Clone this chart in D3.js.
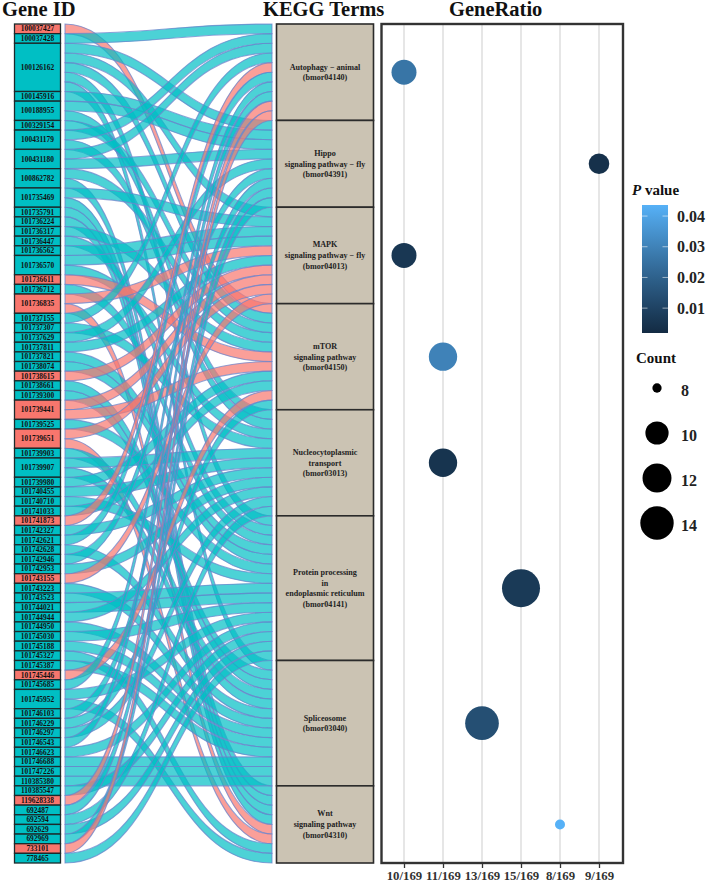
<!DOCTYPE html>
<html>
<head>
<meta charset="utf-8">
<script src="https://cdn.jsdelivr.net/npm/d3@7"></script>
<style>
html,body{margin:0;padding:0;background:#fff;}
svg{display:block;}
text{font-family:"Liberation Serif",serif;font-weight:bold;}
</style>
</head>
<body>
<div id="chart"></div>
<script>
const geneIds = ["100037427","100037428","100126162","100145916","100188955","100329154","100431179","100431180","100862782","101735469","101735791","101736224","101736317","101736447","101736562","101736570","101736611","101736712","101736835","101737155","101737307","101737629","101737811","101737821","101738074","101738615","101738661","101739300","101739441","101739525","101739651","101739903","101739907","101739980","101740455","101740710","101741033","101741873","101742327","101742621","101742628","101742946","101742953","101743155","101743223","101743523","101744021","101744944","101744950","101745030","101745188","101745327","101745387","101745446","101745685","101745952","101746103","101746229","101746297","101746543","101746623","101746688","101747226","110385380","110385547","119628338","692487","692594","692629","692969","733101","778465"];
const upGenes = ["100037427","101736611","101736835","101738615","101739441","101739651","101741873","101743155","101745446","119628338","733101"];

const autophagyGenes = ["100037428","100431179","100431180","101737155","101741873","101742621","101745685","101746543","119628338","733101"];
const hippoGenes = ["100126162","100145916","100188955","100431180","101737629","101742946","101746103","692487","692969"];
const mapkGenes = ["100126162","101735469","101736562","101736570","101736835","101737811","101738615","101739441","101739651","101743155"];
const mtorGenes = ["100037427","100126162","100329154","100862782","101736317","101736611","101739441","101739980","101741033","101745446","101746229"];
const nucleoGenes = ["100188955","100431179","101736570","101737307","101739907","101740455","101742327","101742953","101744944","101746297","692594"];
const proteinGenes = ["100126162","101736447","101736712","101737821","101738074","101739525","101740710","101743523","101744021","101745030","101745952","101746623","110385547","692629","778465"];
const spliceGenes = ["100126162","101738661","101739300","101739903","101739907","101742628","101743223","101744950","101745188","101745387","101746688","101747226","110385380"];
const wntGenes = ["100862782","101735469","101735791","101736224","101736835","101739651","101745327","101745952"];
const termGenes = [autophagyGenes,hippoGenes,mapkGenes,mtorGenes,nucleoGenes,proteinGenes,spliceGenes,wntGenes];

const termLabels = [
  ["Autophagy − animal","(bmor04140)"],
  ["Hippo","signaling pathway − fly","(bmor04391)"],
  ["MAPK","signaling pathway − fly","(bmor04013)"],
  ["mTOR","signaling pathway","(bmor04150)"],
  ["Nucleocytoplasmic","transport","(bmor03013)"],
  ["Protein processing","in","endoplasmic reticulum","(bmor04141)"],
  ["Spliceosome","(bmor03040)"],
  ["Wnt","signaling pathway","(bmor04310)"]
];
const ratioLabels = ["10/169","11/169","13/169","15/169","8/169","9/169"];
const termRatio = ["10/169","9/169","10/169","11/169","11/169","15/169","13/169","8/169"];
const termCount = [10,9,10,11,11,15,13,8];
const termP = [0.026,0.004,0.006,0.030,0.005,0.007,0.014,0.0436];
const pTicks = [0.04,0.03,0.02,0.01];
const countTicks = [8,10,12,14];

const W=708,H=882;
const svg=d3.select("#chart").append("svg").attr("width",W).attr("height",H);
const total=d3.sum(termGenes,t=>t.length);
const yUnit=d3.scaleLinear().domain([0,total]).range([24,863]);

/* Build lodes */
const geneCount=new Map(geneIds.map(g=>[g,0]));
termGenes.forEach(t=>t.forEach(g=>geneCount.set(g,geneCount.get(g)+1)));
const geneStart=new Map();let cum=0;
geneIds.forEach(g=>{geneStart.set(g,cum);cum+=geneCount.get(g);});
const geneUsed=new Map(geneIds.map(g=>[g,0]));
const links=[];const termBoxes=[];let tcum=0;
termGenes.forEach((t,ti)=>{
  termBoxes.push({ti,start:tcum,end:tcum+t.length});
  t.forEach((g,k)=>{
    const s=geneStart.get(g)+geneUsed.get(g);geneUsed.set(g,geneUsed.get(g)+1);
    links.push({g,s,e:tcum+k});
  });
  tcum+=t.length;
});
links.sort((a,b)=>a.s-b.s);

/* Alluvial ribbons */
const xL=65,xR=272;
const band=d3.area().x(d=>d.x).y0(d=>d.y0).y1(d=>d.y1).curve(d3.curveBumpX);
svg.append("g").selectAll("path").data(links).join("path")
  .attr("d",d=>band([{x:xL,y0:yUnit(d.s),y1:yUnit(d.s+1)},{x:xR,y0:yUnit(d.e),y1:yUnit(d.e+1)}]))
  .attr("fill",d=>upGenes.includes(d.g)?"#F8766D":"#00BFC4")
  .attr("fill-opacity",0.7)
  .attr("stroke","#6C86CC")
  .attr("stroke-opacity",0.75)
  .attr("stroke-width",1.1);

/* Gene column */
const geneG=svg.append("g");
geneG.selectAll("rect").data(geneIds).join("rect")
  .attr("x",14.5).attr("width",46)
  .attr("y",g=>yUnit(geneStart.get(g)))
  .attr("height",g=>yUnit(geneCount.get(g))-yUnit(0))
  .attr("fill",g=>upGenes.includes(g)?"#F8766D":"#00BFC4")
  .attr("stroke","#1c2a2c").attr("stroke-width",1.3);
geneG.selectAll("text").data(geneIds).join("text")
  .attr("x",37.5)
  .attr("y",g=>yUnit(geneStart.get(g)+geneCount.get(g)/2))
  .attr("dy","0.35em").attr("text-anchor","middle")
  .attr("font-size",7.4).attr("fill","#111").text(g=>g);

/* Term column */
const termG=svg.append("g");
termG.selectAll("rect").data(termBoxes).join("rect")
  .attr("x",276.5).attr("width",97)
  .attr("y",d=>yUnit(d.start)).attr("height",d=>yUnit(d.end)-yUnit(d.start))
  .attr("fill","#CBC3B3").attr("stroke","#2b2b2b").attr("stroke-width",1.6);
termBoxes.forEach(b=>{
  const lines=termLabels[b.ti];
  const mid=(yUnit(b.start)+yUnit(b.end))/2;
  termG.append("text").attr("text-anchor","middle").attr("font-size",8.1).attr("fill","#222")
    .selectAll("tspan").data(lines).join("tspan")
    .attr("x",325).attr("y",(d,i)=>mid+(i-(lines.length-1)/2)*10.8+2.8).text(d=>d);
});

/* Dot panel */
const px0=381.5,px1=623,py0=24,py1=863;
const x=d3.scalePoint().domain(ratioLabels).range([404,599]);
const pc=d3.scaleLinear().domain([0.0019,0.0436]).range(["#132B43","#56B1F7"]).interpolate(d3.interpolateLab);
const unit=d3.scaleLinear().domain([8,15]).range([0,1]);
const rs=d3.scaleLinear().domain([0,1]).range([5,19]);
const radius=c=>rs(Math.sqrt(unit(c)));

const panel=svg.append("g");
panel.selectAll("line.grid").data(ratioLabels).join("line").attr("class","grid")
  .attr("x1",d=>x(d)).attr("x2",d=>x(d)).attr("y1",py0).attr("y2",py1)
  .attr("stroke","#e6e6e6").attr("stroke-width",2);
panel.selectAll("circle").data(termBoxes).join("circle")
  .attr("cx",d=>x(termRatio[d.ti]))
  .attr("cy",d=>(yUnit(d.start)+yUnit(d.end))/2)
  .attr("r",d=>radius(termCount[d.ti]))
  .attr("fill",d=>pc(termP[d.ti]));
panel.append("rect").attr("x",px0).attr("y",py0).attr("width",px1-px0).attr("height",py1-py0)
  .attr("fill","none").attr("stroke","#333").attr("stroke-width",2.4);
const ax=svg.append("g").attr("transform",`translate(0,${py1})`).call(d3.axisBottom(x).tickSize(5).tickPadding(3));
ax.select(".domain").remove();
ax.selectAll("line").attr("stroke","#333").attr("stroke-width",1.3);
ax.selectAll("text").attr("font-size",12.8).attr("font-family","Liberation Serif").attr("font-weight","bold").attr("fill","#333");

/* Titles */
const titles=[["Gene ID",2],["KEGG Terms",263],["GeneRatio",449]];
svg.append("g").selectAll("text").data(titles).join("text")
  .attr("x",d=>d[1]).attr("y",16).attr("font-size",20.5).attr("fill","#111").text(d=>d[0]);

/* P value legend */
const lg=svg.append("g");
const pLab=lg.append("text").attr("x",632).attr("y",195).attr("font-size",15).attr("fill","#111");
pLab.append("tspan").attr("font-style","italic").text("P");
pLab.append("tspan").text(" value");
const yBar=d3.scaleLinear().domain([0.0019,0.0436]).range([333,205]);
const grad=svg.append("defs").append("linearGradient").attr("id","pgrad").attr("x1",0).attr("x2",0).attr("y1",1).attr("y2",0);
d3.range(0,1.0001,0.1).forEach(t=>{
  grad.append("stop").attr("offset",t).attr("stop-color",pc(0.0019+t*(0.0436-0.0019)));
});
lg.append("rect").attr("x",642).attr("y",yBar(0.0436)).attr("width",26).attr("height",yBar(0.0019)-yBar(0.0436)).attr("fill","url(#pgrad)");
pTicks.forEach(v=>{
  [[642,647.5],[662.5,668]].forEach(s=>{
    lg.append("line").attr("x1",s[0]).attr("x2",s[1]).attr("y1",yBar(v)).attr("y2",yBar(v))
      .attr("stroke","#fff").attr("stroke-opacity",0.55).attr("stroke-width",1);
  });
  lg.append("text").attr("x",677).attr("y",yBar(v)).attr("dy","0.35em").attr("font-size",16).attr("fill","#222").text(v.toFixed(2));
});

/* Count legend */
lg.append("text").attr("x",636).attr("y",363).attr("font-size",15).attr("fill","#111").text("Count");
const yCount=d3.scalePoint().domain(countTicks).range([388,523]);
countTicks.forEach(c=>{
  lg.append("circle").attr("cx",657).attr("cy",yCount(c)).attr("r",radius(c)*0.93).attr("fill","#000");
  lg.append("text").attr("x",681).attr("y",yCount(c)+2).attr("dy","0.35em").attr("font-size",16).attr("fill","#222").text(c);
});
</script>
</body>
</html>
